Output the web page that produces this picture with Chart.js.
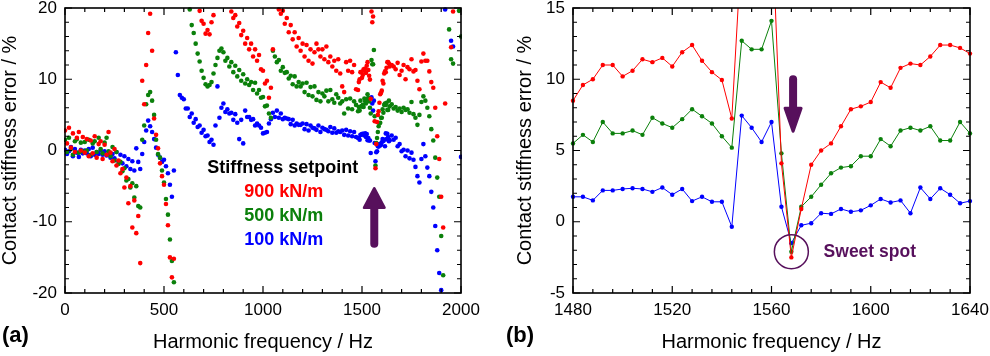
<!DOCTYPE html>
<html lang="en">
<head>
<meta charset="UTF-8">
<title>Contact stiffness error vs harmonic frequency</title>
<style>
  body { margin: 0; background: #fff; }
  .wrap { position: relative; width: 990px; height: 356px; }
  .box { position: absolute; top: 0; width: 495px; height: 356px; }
  #boxA { left: 0; }
  #boxB { left: 495px; }
</style>
</head>
<body>
<div class="wrap">
  <div class="box" id="boxA"><canvas id="chartA" width="495" height="356"></canvas></div>
  <div class="box" id="boxB"><canvas id="chartB" width="495" height="356"></canvas></div>
</div>

<script src="https://cdn.jsdelivr.net/npm/chart.js"></script>
<script>
// ---- data ----
const seriesNames = ['900 kN/m', '500 kN/m', '100 kN/m'];
const legendTitle = 'Stiffness setpoint';

// (a) low part, every 10 Hz
const freqA1 = [
  0,10,20,30,40,50,60,70,80,90,
  100,110,120,130,140,150,160,170,180,190,
  200,210,220,230,240,250,260,270,280,290,
  300,310,320,330,340,350,360,370,380,390,
  400,410,420,430,440,450,460,470,480,490,
  500,510,520,530,540,550,560,570,580,590,
  600,610,620,630,640,650,660,670,680,690,
  700,710,720,730,740,750,760,770,780,790,
  800,810,820,830,840,850,860,870,880,890,
  900,910,920,930,940,950,960,970,980,990,
  1000,1010,1020,1030,1040,1050,1060,1070,1080,1090,
  1100,1110,1120,1130,1140,1150,1160,1170,1180,1190,
  1200,1210,1220,1230,1240,1250,1260,1270,1280,1290,
  1300,1310,1320,1330,1340,1350,1360,1370,1380,1390,
  1400,1410,1420,1430,1440,1450,1460,1470
];
const red900A1 = [
  2.8,1.0,3.2,0.4,2.4,-0.2,1.8,2.6,0.0,1.9,
  -0.3,1.6,-0.8,1.4,-0.4,2.0,-1.0,0.9,1.3,-1.2,
  0.8,-0.6,2.6,-0.3,-1.5,0.2,-2.1,-1.4,-3.2,-2.6,
  -5.2,-3.8,-7.4,-5.0,-10.8,-7.0,-11.6,-9.2,-15.8,9.8,
  6.5,12.0,16.5,19.2,14.0,4.5,2.2,0.3,-1.8,-3.6,
  -4.8,-7.5,-10.5,-15.0,-17.8,-15.2,null,null,null,null,
  null,null,null,null,null,null,null,null,19.6,18.2,
  17.8,16.4,16.9,16.3,18.0,19.0,null,null,null,null,
  null,null,null,null,19.5,18.6,19.0,17.4,17.9,16.2,
  16.8,15.0,15.8,14.2,15.0,13.2,14.2,12.6,13.4,11.4,
  11.2,9.4,9.8,7.4,8.8,14.2,null,null,19.8,19.2,
  19.6,17.8,18.6,16.6,17.6,15.6,16.6,14.6,15.8,14.0,
  15.0,13.2,14.8,12.6,14.2,12.2,13.8,15.0,14.2,13.2,
  14.2,12.8,14.6,12.4,13.2,11.8,12.6,11.2,12.8,10.8,
  9.0,8.2,12.4,11.2,12.6,11.0,12.0,8.6
];
const green500A1 = [
  1.5,-0.2,1.8,0.2,-0.6,1.3,1.6,-0.3,1.1,-0.1,
  1.2,0.0,1.5,-0.6,1.0,1.3,-0.2,1.8,0.2,-0.4,
  1.1,1.8,-0.1,-0.8,0.5,-1.4,-0.2,-1.9,-1.6,-2.9,
  -2.5,-4.2,-4.0,-5.2,-4.6,-6.6,-5.0,-7.8,-8.0,1.5,
  3.5,6.5,7.8,8.2,7.0,5.0,1.5,-0.5,-1.0,-2.8,
  -4.5,-6.8,-9.0,-12.5,-15.5,-18.5,null,null,null,null,
  null,null,null,19.8,17.6,16.5,15.0,13.6,12.5,11.2,
  10.2,9.3,9.0,9.2,9.6,10.8,12.0,13.0,14.0,14.3,
  13.8,12.6,13.0,11.8,12.4,11.0,11.9,10.4,11.3,9.8,
  10.7,9.4,10.0,9.2,9.6,8.5,9.5,8.0,8.5,7.4,
  7.5,6.2,6.3,5.2,4.6,14.0,13.2,12.4,12.7,11.2,
  11.7,10.9,11.0,10.1,10.5,9.3,10.4,9.0,9.6,9.0,
  9.4,8.2,9.5,7.8,8.9,7.6,9.0,7.1,8.2,6.9,
  8.0,7.6,8.4,6.9,8.5,7.2,6.7,7.9,7.4,6.6,
  6.9,5.2,7.2,5.9,7.3,5.8,6.9,6.4
];
const blue100A1 = [
  0.1,-0.5,-0.1,0.5,-0.8,0.2,-0.3,-0.9,0.1,-0.4,
  0.0,-0.4,0.2,-0.8,0.4,-0.6,-0.2,-0.5,0.0,-0.6,
  -0.1,-0.7,-0.4,-1.0,-0.5,-1.1,-0.2,-1.5,-0.6,-1.8,
  -0.8,-2.2,-1.2,-2.6,-1.5,-2.8,0.3,-1.6,-2.6,-0.5,
  1.2,2.8,4.2,3.4,2.6,1.6,0.4,-0.6,-1.0,-1.6,
  -1.3,-2.2,-3.2,-4.8,-6.5,-2.8,13.8,10.6,7.8,7.4,
  7.2,5.9,5.9,4.7,5.2,3.9,4.4,3.3,3.5,2.5,
  2.9,2.0,2.1,1.2,1.5,0.8,3.5,9.0,4.6,6.0,
  6.6,5.4,5.8,5.2,5.3,4.3,5.1,3.9,1.6,4.3,
  1.0,5.6,4.7,4.7,4.3,4.4,3.5,3.8,3.5,3.2,
  2.4,2.5,2.6,3.8,4.4,5.3,4.7,5.6,4.6,5.2,
  4.4,4.6,4.5,4.4,3.7,4.3,3.5,3.8,3.6,3.6,
  3.8,3.0,3.7,2.8,3.5,3.2,3.1,2.9,3.5,2.6,
  3.2,3.0,2.9,2.7,3.3,2.5,3.1,2.5,2.7,2.6,
  2.8,2.2,2.9,2.1,2.7,2.0,2.6,1.9
];

// (b) zoomed window, every 4 Hz (also used in (a))
const freqB = [
  1480,1484,1488,1492,1496,1500,1504,1508,1512,1516,
  1520,1524,1528,1532,1536,1540,1544,1548,1552,1556,
  1560,1564,1568,1572,1576,1580,1584,1588,1592,1596,
  1600,1604,1608,1612,1616,1620,1624,1628,1632,1636,
  1640
];
const red900B = [
  8.5,9.6,10.0,11.0,11.0,10.2,10.6,11.4,11.2,11.5,
  10.9,11.9,12.4,11.3,10.5,9.95,7.25,19.5,18.0,18.8,
  22.0,4.1,-2.5,0.9,4.0,5.0,5.5,6.7,7.9,8.1,
  8.4,9.8,9.4,10.8,11.1,11.0,11.6,12.4,12.4,12.2,
  11.8
];
const green500B = [
  5.5,6.1,5.6,7.0,6.2,6.2,6.4,6.1,7.3,6.9,
  6.6,7.2,7.9,7.4,6.9,6.0,5.2,12.7,12.1,12.1,
  14.1,4.8,-2.1,1.05,1.75,2.6,3.4,3.8,3.9,4.6,
  4.6,5.8,5.3,6.4,6.6,6.4,6.7,5.7,5.7,7.0,
  6.2
];
const blue100B = [
  1.75,1.75,1.5,2.2,2.2,2.3,2.35,2.3,2.1,2.4,
  1.9,2.3,1.45,1.75,1.4,1.4,-0.35,7.45,6.6,5.6,
  7.0,1.05,-1.5,-0.25,-0.1,0.6,0.55,0.9,0.7,0.8,
  1.15,1.6,1.35,1.5,0.6,2.4,1.6,2.35,1.9,1.3,
  1.45
];

// (a) high part, every 10 Hz
const freqA2 = [
  1650,1660,1670,1680,1690,1700,1710,1720,1730,1740,
  1750,1760,1770,1780,1790,1800,1810,1820,1830,1840,
  1850,1860,1870,1880,1890,1900,1910,1920,1930,1940,
  1950,1960,1970,1980,1990,2000
];
const red900A2 = [
  12.0,11.8,11.4,12.3,10.6,11.2,12.0,10.0,11.7,11.4,
  12.8,11.1,11.3,9.8,8.6,12.5,13.6,12.6,12.6,11.1,
  9.6,8.8,6.0,2.0,-1.2,-6.5,-10.8,6.6,null,null,
  14.5,19.5,null,null,null,null
];
const green500A2 = [
  6.5,5.9,6.1,5.6,5.9,5.4,6.0,5.7,5.8,5.3,
  6.8,5.1,4.6,3.6,5.0,6.8,7.6,7.0,6.0,4.8,
  3.0,1.4,-1.0,-3.8,-6.5,-12.0,-17.5,null,null,17.0,
  12.8,12.2,null,null,19.6,16.0
];
const blue100A2 = [
  2.1,1.5,1.8,0.6,0.9,-0.1,0.1,-0.8,0.0,-1.1,
  -0.3,-1.3,-2.3,-3.6,-4.5,-1.2,0.9,-0.8,-2.4,-3.6,
  -5.8,-8.0,-10.6,-14.0,-17.2,-19.6,null,19.8,null,null,
  15.4,14.6,null,null,null,-0.9
];

// ---- styling ----
const FONT = "'Liberation Sans', Arial, Helvetica, sans-serif";
const COLORS = ['#ff0000', '#0b800b', '#0000ff'];
const PURPLE = '#57105c';

const freqA = freqA1.concat(freqB, freqA2);
const valuesA = [
  red900A1.concat(red900B, red900A2),
  green500A1.concat(green500B, green500A2),
  blue100A1.concat(blue100B, blue100A2)
];
const valuesB = [red900B, green500B, blue100B];

function pairs(xs, ys) {
  return xs.map((f, i) => ({ x: f, y: ys[i] }));
}

// inward ticks on all four sides + box frame
function frameTicks(xMinor, xMajor, yMinor, yMajor) {
  return {
    id: 'frameTicks',
    afterDatasetsDraw(chart) {
      const { ctx, chartArea: a, scales: { x, y } } = chart;
      ctx.save();
      ctx.strokeStyle = '#000';
      ctx.lineWidth = 1.2;
      ctx.beginPath();
      for (let v = x.min; v <= x.max; v += xMinor) {
        const px = x.getPixelForValue(v);
        const len = (v - x.min) % xMajor === 0 ? 7 : 4;
        ctx.moveTo(px, a.bottom); ctx.lineTo(px, a.bottom - len);
        ctx.moveTo(px, a.top); ctx.lineTo(px, a.top + len);
      }
      for (let v = y.min; v <= y.max; v += yMinor) {
        const py = y.getPixelForValue(v);
        const len = (v - y.min) % yMajor === 0 ? 7 : 4;
        ctx.moveTo(a.left, py); ctx.lineTo(a.left + len, py);
        ctx.moveTo(a.right, py); ctx.lineTo(a.right - len, py);
      }
      ctx.stroke();
      ctx.lineWidth = 1.6;
      ctx.strokeRect(a.left, a.top, a.right - a.left, a.bottom - a.top);
      ctx.restore();
    }
  };
}

function drawArrow(ctx, px, yTail, yTip, shaft, headW, headLen) {
  const dir = yTip < yTail ? -1 : 1;
  const yBase = yTip - dir * headLen;
  ctx.strokeStyle = PURPLE;
  ctx.fillStyle = PURPLE;
  ctx.lineCap = 'round';
  ctx.lineWidth = shaft;
  ctx.beginPath();
  ctx.moveTo(px, yTail);
  ctx.lineTo(px, yBase);
  ctx.stroke();
  ctx.lineJoin = 'round';
  ctx.lineWidth = 3;
  ctx.beginPath();
  ctx.moveTo(px - headW / 2, yBase);
  ctx.lineTo(px + headW / 2, yBase);
  ctx.lineTo(px, yTip);
  ctx.closePath();
  ctx.fill();
  ctx.stroke();
}

function axisCommon(min, max, step, title, pad) {
  return {
    type: 'linear', min: min, max: max,
    ticks: {
      stepSize: step, color: '#000', font: { family: FONT, size: 17 }, padding: pad,
      maxRotation: 0, autoSkip: false,
      callback: v => String(v)
    },
    grid: { display: false, drawTicks: false },
    border: { display: false },
    title: { display: true, text: title, color: '#000', font: { family: FONT, size: 20, lineHeight: 1 } }
  };
}

function makeScales(xr, yr, yWidth, yTitlePad) {
  const x = axisCommon(xr[0], xr[1], xr[2], 'Harmonic frequency / Hz', 7);
  x.title.padding = { top: 0, bottom: 4 };
  x.afterFit = s => { s.height = 63; s.paddingLeft = 0; s.paddingRight = 0; };
  const y = axisCommon(yr[0], yr[1], yr[2], 'Contact stiffness error / %', 8);
  y.title.padding = { top: yTitlePad, bottom: 0 };
  y.afterFit = s => { s.width = yWidth; s.paddingTop = 0; s.paddingBottom = 0; };
  return { x: x, y: y };
}

const baseOpts = {
  responsive: false,
  animation: false,
  events: [],
  plugins: { legend: { display: false }, tooltip: { enabled: false } }
};

// ---- (a) ----
const notesA = {
  id: 'notesA',
  afterDraw(chart) {
    const { ctx, scales: { x, y } } = chart;
    ctx.save();
    ctx.textAlign = 'center';
    ctx.textBaseline = 'middle';
    ctx.font = 'bold 18px ' + FONT;
    ctx.fillStyle = '#000';
    ctx.fillText(legendTitle, x.getPixelForValue(1100), y.getPixelForValue(-2.5));
    const rowsY = [-5.8, -9.2, -12.6];
    seriesNames.forEach((t, i) => {
      ctx.fillStyle = COLORS[i];
      ctx.fillText(t, x.getPixelForValue(1105), y.getPixelForValue(rowsY[i]));
    });
    drawArrow(ctx, x.getPixelForValue(1562), y.getPixelForValue(-13.1), y.getPixelForValue(-5.35), 8, 20, 19);
    ctx.font = 'bold 22px ' + FONT;
    ctx.textAlign = 'left';
    ctx.fillStyle = '#000';
    ctx.fillText('(a)', 2, 336);
    ctx.restore();
  }
};

new Chart(document.getElementById('chartA'), {
  type: 'scatter',
  data: {
    datasets: seriesNames.map((name, i) => ({
      label: name,
      data: pairs(freqA, valuesA[i]),
      showLine: false,
      pointRadius: 2.3,
      pointHoverRadius: 2.3,
      pointBorderWidth: 0,
      backgroundColor: COLORS[i],
      borderColor: COLORS[i],
      clip: 1
    }))
  },
  options: Object.assign({}, baseOpts, {
    layout: { padding: { top: 8, right: 34, bottom: 0, left: 0 } },
    scales: makeScales([0, 2000, 500], [-20, 20, 10], 65, 0)
  }),
  plugins: [frameTicks(100, 500, 2, 10), notesA]
});

// ---- (b) ----
const notesB = {
  id: 'notesB',
  afterDraw(chart) {
    const { ctx, scales: { x, y } } = chart;
    ctx.save();
    drawArrow(ctx, x.getPixelForValue(1568.7), y.getPixelForValue(10.0), y.getPixelForValue(6.35), 8, 16, 23);
    const cx = x.getPixelForValue(1568);
    const cy = y.getPixelForValue(-2.1);
    ctx.strokeStyle = PURPLE;
    ctx.lineWidth = 1.5;
    ctx.beginPath();
    ctx.arc(cx, cy, 17, 0, Math.PI * 2);
    ctx.stroke();
    ctx.font = 'bold 17.5px ' + FONT;
    ctx.textAlign = 'left';
    ctx.textBaseline = 'middle';
    ctx.fillStyle = PURPLE;
    ctx.fillText('Sweet spot', x.getPixelForValue(1581), cy);
    ctx.font = 'bold 22px ' + FONT;
    ctx.fillStyle = '#000';
    ctx.fillText('(b)', 11, 336);
    ctx.restore();
  }
};

new Chart(document.getElementById('chartB'), {
  type: 'line',
  data: {
    datasets: seriesNames.map((name, i) => ({
      label: name,
      data: pairs(freqB, valuesB[i]),
      borderColor: COLORS[i],
      backgroundColor: COLORS[i],
      borderWidth: 1,
      pointRadius: 2.2,
      pointHoverRadius: 2.2,
      pointBorderWidth: 0,
      tension: 0,
      clip: { left: 4, right: 4, top: 0, bottom: 4 }
    }))
  },
  options: Object.assign({}, baseOpts, {
    layout: { padding: { top: 8, right: 20, bottom: 0, left: 0 } },
    scales: makeScales([1480, 1640, 40], [-5, 15, 5], 78, 20)
  }),
  plugins: [frameTicks(8, 40, 1, 5), notesB]
});
</script>
</body>
</html>
